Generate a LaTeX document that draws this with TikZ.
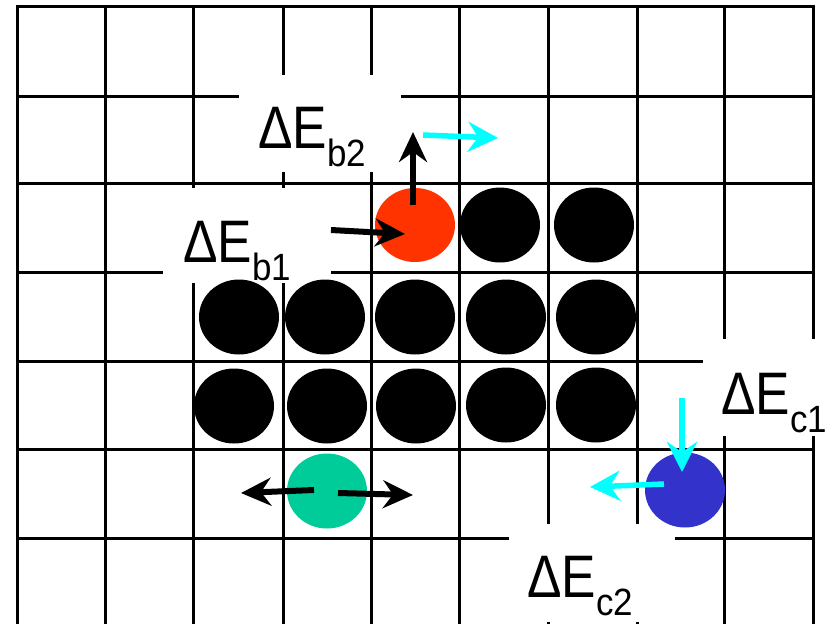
\documentclass[tikz,border=0pt]{standalone}
\usepackage{fontspec}
\setmainfont{Liberation Sans}
\usetikzlibrary{arrows.meta}
\definecolor{redball}{HTML}{FF3300}
\definecolor{greenball}{HTML}{00CC99}
\definecolor{blueball}{HTML}{3333CC}
\definecolor{cyanarrow}{HTML}{00FFFF}
\newcommand{\lbl}[1]{\scalebox{0.86}[1]{\fontsize{60}{62}\selectfont ΔE}\raisebox{-18pt}{\scalebox{0.92}[1]{\fontsize{38}{40}\selectfont #1}}}
\begin{document}
\begin{tikzpicture}[x=1pt,y=-1pt,
  gridline/.style={line width=3pt,black},
  blank/.style={fill=white,draw=none},
  blackarrow/.style={line width=6pt,black,-{Stealth[length=30pt,width=28pt,inset=10pt]}},
  cyanarr/.style={line width=5.5pt,cyanarrow,-{Stealth[length=30pt,width=30pt,inset=10pt]}},
  label/.style={anchor=base west,inner sep=0pt,text=black}]
\useasboundingbox (0,0) rectangle (831,624);
% grid
\foreach \x in {17,105,193,283,371,459,548,637,724,813}
  \draw[gridline] (\x,4.5) -- (\x,624);
\foreach \y in {6,96,183,272,361,449,538}
  \draw[gridline] (15.5,\y) -- (814.5,\y);
% white label backgrounds
\fill[blank] (239,75) rectangle (401,172);
\fill[blank] (163,188) rectangle (331,283);
\fill[blank] (703,339) rectangle (831,436);
\fill[blank] (509,524) rectangle (675,622);
% balls
\foreach \cx/\cy in {500/225,594/225,239/317,325/317,415/317,506/317,596/317,234/406,327/406,416/406,506/405,596/405}
  \fill[black] (\cx,\cy) ellipse [x radius=40pt, y radius=37.5pt];
\fill[redball] (415,225) ellipse [x radius=40pt, y radius=37pt];
\fill[greenball] (327,491) ellipse [x radius=40pt, y radius=37.5pt];
\fill[blueball] (685,490) ellipse [x radius=40pt, y radius=37.5pt];
% arrow end points
\coordinate (b2s) at (413,205); \coordinate (b2e) at (413,132);
\coordinate (cts) at (423,135); \coordinate (cte) at (498,138);
\coordinate (b1s) at (331,230); \coordinate (b1e) at (405,234);
\coordinate (gls) at (314,490); \coordinate (gle) at (241,493);
\coordinate (grs) at (338,493); \coordinate (gre) at (413,495);
\coordinate (cds) at (682,398); \coordinate (cde) at (682,472);
\coordinate (cls) at (664,484); \coordinate (cle) at (590,487);
\draw[blackarrow] (b2s) -- (b2e);
\draw[cyanarr] (cts) -- (cte);
\draw[blackarrow] (b1s) -- (b1e);
\draw[blackarrow] (gls) -- (gle);
\draw[blackarrow] (grs) -- (gre);
\draw[cyanarr] (cds) -- (cde);
\draw[cyanarr] (cls) -- (cle);
% labels
\node[label] (Eb2) at (258,148) {\lbl{b2}};
\node[label] (Eb1) at (183,262) {\lbl{b1}};
\node[label] (Ec1) at (721,414) {\lbl{c1}};
\node[label] (Ec2) at (527,597) {\lbl{c2}};
\end{tikzpicture}
\end{document}
